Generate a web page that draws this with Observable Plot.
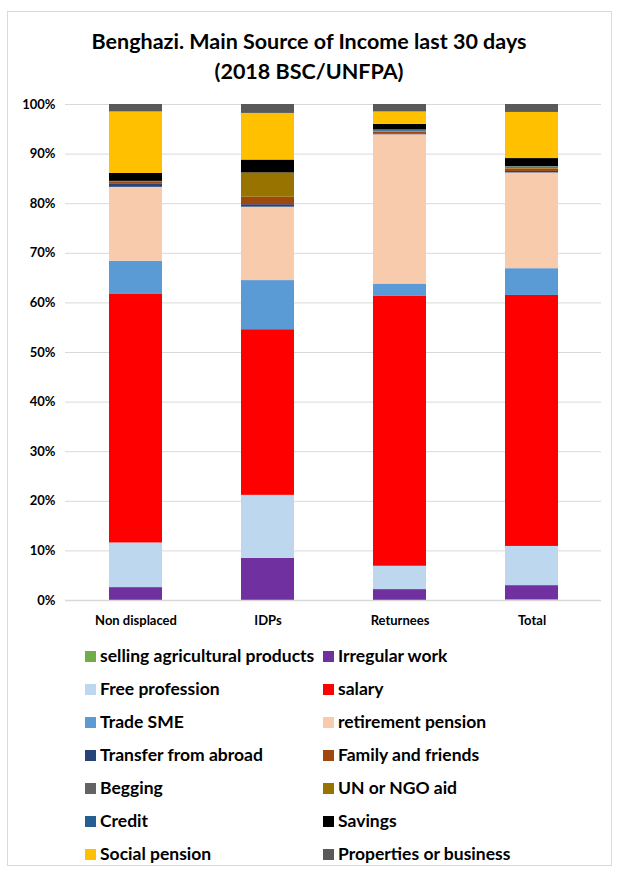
<!DOCTYPE html>
<html>
<head>
<meta charset="utf-8">
<script src="https://cdn.jsdelivr.net/npm/d3@7"></script>
<script src="https://cdn.jsdelivr.net/npm/@observablehq/plot@0.6"></script>
<style>
  html, body { margin: 0; padding: 0; background: #fff; }
  #frame { position: absolute; left: 7px; top: 11px; width: 605px; height: 855px; border: 1px solid #d9d9d9; box-sizing: border-box; }
  #title { position: absolute; left: 0; top: 26px; width: 618px; text-align: center; font-family: Lato, sans-serif; font-weight: bold; font-size: 21.5px; line-height: 30px; color: #000; }
  #chart { position: absolute; left: 0; top: 90px; }
  #legend { position: absolute; left: 0; top: 643px; width: 618px; font-family: Lato, sans-serif; font-weight: bold; font-size: 17.5px; color: #000; }
  .item { position: absolute; white-space: nowrap; height: 26px; line-height: 26px; }
  .sw { position: absolute; left: -15px; top: 8px; width: 11px; height: 11px; }
</style>
</head>
<body>
<div id="frame"></div>
<div id="title">Benghazi. Main Source of Income last 30 days<br>(2018 BSC/UNFPA)</div>
<div id="chart"></div>
<div id="legend"></div>
<script>
const groups = ["Non displaced", "IDPs", "Returnees", "Total"];
const series = ["selling agricultural products", "Irregular work", "Free profession", "salary", "Trade SME", "retirement pension", "Transfer from abroad", "Family and friends", "Begging", "UN or NGO aid", "Credit", "Savings", "Social pension", "Properties or business"];
const colors = ["#70AD47", "#7030A0", "#BDD7EE", "#FF0000", "#5B9BD5", "#F8CBAD", "#264478", "#9E480E", "#636363", "#997300", "#255E91", "#000000", "#FFC000", "#595959"];
// percent values per series, in order of groups
const sellingAgri = [0, 0, 0, 0.2];
const irregularWork = [2.6, 8.5, 2.2, 2.8];
const freeProfession = [9.0, 12.7, 4.7, 7.9];
const salary = [50.1, 33.4, 54.5, 50.6];
const tradeSME = [6.7, 9.9, 2.4, 5.4];
const retirementPension = [14.9, 14.8, 30.1, 19.3];
const transferAbroad = [0.6, 0.5, 0.2, 0.3];
const familyFriends = [0.5, 1.5, 0.3, 0.5];
const begging = [0.1, 0, 0.1, 0];
const unNgoAid = [0, 4.9, 0.1, 0.4];
const credit = [0, 0, 0.3, 0.1];
const savings = [1.6, 2.6, 1.1, 1.6];
const socialPension = [12.4, 9.4, 2.5, 9.3];
const properties = [1.5, 1.8, 1.5, 1.6];
const yTicks = [0, 10, 20, 30, 40, 50, 60, 70, 80, 90, 100];

const valuesBySeries = [sellingAgri, irregularWork, freeProfession, salary, tradeSME, retirementPension, transferAbroad, familyFriends, begging, unNgoAid, credit, savings, socialPension, properties];
const rows = [];
series.forEach((s, i) => groups.forEach((g, j) => rows.push({group: g, series: s, value: valuesBySeries[i][j]})));

const chart = Plot.plot({
  width: 618,
  height: 545,
  marginTop: 14,
  marginBottom: 35,
  marginLeft: 65,
  marginRight: 17,
  style: {fontFamily: "Lato, sans-serif", fontWeight: "bold", fontSize: "13px", color: "#000", background: "transparent"},
  x: {domain: groups, label: null, paddingInner: 0.6, paddingOuter: 0.33, tickSize: 0, tickPadding: 15},
  y: {domain: [0, 100], label: null, ticks: yTicks, tickSize: 0, tickPadding: 10, tickFormat: d => d + "%"},
  color: {domain: series, range: colors},
  marks: [
    Plot.ruleY(yTicks, {stroke: "#d9d9d9", strokeWidth: 1}),
    Plot.barY(rows, {x: "group", y: "value", fill: "series", order: null}),
    Plot.ruleY([0], {stroke: "#d9d9d9", strokeWidth: 1.5})
  ]
});
chart.querySelectorAll("text").forEach(t => { t.setAttribute("fill", "#000"); });
document.getElementById("chart").appendChild(chart);

const legend = document.getElementById("legend");
series.forEach((s, i) => {
  const col = i % 2, row = Math.floor(i / 2);
  const item = document.createElement("div");
  item.className = "item";
  item.style.left = (col === 0 ? 100 : 338) + "px";
  item.style.top = (row * 33) + "px";
  const sw = document.createElement("span");
  sw.className = "sw";
  sw.style.background = colors[i];
  item.appendChild(sw);
  item.appendChild(document.createTextNode(s));
  legend.appendChild(item);
});
</script>
</body>
</html>
